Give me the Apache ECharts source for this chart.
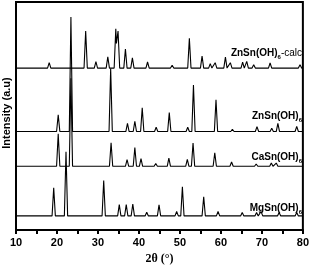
<!DOCTYPE html>
<html><head><meta charset="utf-8">
<script src="https://cdn.jsdelivr.net/npm/echarts@6/dist/echarts.min.js"></script>
<style>html,body{margin:0;padding:0;background:#fff}#c{width:312px;height:270px}</style>
</head><body><div id="c"></div>
<script>
// x-axis ticks (2θ, degrees)
const xTicks = [10, 20, 30, 40, 50, 60, 70, 80];
// pattern names (top to bottom)
const names = ['ZnSn(OH)6-calc', 'ZnSn(OH)6', 'CaSn(OH)6', 'MgSn(OH)6'];
// vertical offsets of each pattern (a.u.)
const offsets = [165.5, 100.7, 65.2, 14.5];
// peaks: [2θ, intensity above baseline]
const calcPeaks = [[18.1,5.5],[27.0,37.8],[29.5,6.5],[32.4,11.5],[34.35,40.2],[34.9,37.8],[36.7,19.5],[38.4,10.5],[42.1,6.2],[48.1,3],[52.3,30.5],[55.4,12.2],[57.4,4.5],[58.6,5.5],[61.1,11.2],[62.3,5.5],[65.3,6],[66.3,6.8],[68.0,3.5],[72.0,5.2],[79.3,3.5]];
const znPeaks = [[20.3,17],[23.4,117],[33.1,64.3],[37.2,8.3],[39.0,10.3],[40.8,24.3],[44.2,4.3],[47.4,19.3],[51.9,4.3],[53.3,47.6],[58.8,32.3],[62.8,2.3],[68.8,5],[72.4,3.3],[73.9,8.3],[78.5,5.3]];
const caPeaks = [[20.3,33.1],[23.4,90],[33.2,24.1],[37.1,6.8],[39.0,19.1],[40.5,7.8],[44.1,2.8],[47.3,8.3],[51.8,7.1],[53.2,23.8],[58.5,13.8],[62.6,4.3],[68.6,2.3],[72.3,3.3],[73.5,3.3],[78.4,1.8]];
const mgPeaks = [[19.2,28.8],[22.2,65.5],[31.4,36.2],[35.2,11.5],[36.9,11.5],[38.5,12.2],[41.9,3.8],[44.9,11.2],[49.2,4.5],[50.6,29.8],[55.8,19.5],[59.3,4.5],[65.2,3.5],[68.7,3.5],[69.8,4.5],[74.2,3.5],[78.5,3.5]];
const allPeaks = [calcPeaks, znPeaks, caPeaks, mgPeaks];

const W = 0.4; // half base width of a drawn peak (deg)
function buildLine(peaks, off){
  const xs = new Set([10, 80]);
  peaks.forEach(p => { xs.add(+(p[0]-W).toFixed(3)); xs.add(p[0]); xs.add(+(p[0]+W).toFixed(3)); });
  const arr = [...xs].sort((a,b)=>a-b);
  return arr.map(x => {
    let v = 0;
    peaks.forEach(p => { const d = Math.abs(x - p[0]); if (d < W) v = Math.max(v, p[1]*(1 - d/W)); });
    return [x, off + v];
  });
}

const chart = echarts.init(document.getElementById('c'), null, {renderer:'canvas'});
const labelY = [55, 118, 159, 210];
const labelRich = [
  '{b|ZnSn(OH)}{s|6}{n|-calc}', '{b|ZnSn(OH)}{s|6}', '{b|CaSn(OH)}{s|6}', '{b|MgSn(OH)}{s|6}'
];
const rich = {
  b:{fontFamily:'Arial, Liberation Sans', fontWeight:'bold', fontSize:10, fill:'#000', color:'#000', verticalAlign:'bottom', lineHeight:12},
  s:{fontFamily:'Arial, Liberation Sans', fontWeight:'bold', fontSize:6, fill:'#000', color:'#000', verticalAlign:'bottom', lineHeight:8, padding:[0,0,-2,0]},
  n:{fontFamily:'Arial, Liberation Sans', fontWeight:'normal', fontSize:10, fill:'#000', color:'#000', verticalAlign:'bottom', lineHeight:12}
};
chart.setOption({
  animation:false,
  backgroundColor:'#fff',
  grid:{left:16, right:8, top:2, bottom:35, show:true, borderColor:'#000', borderWidth:2, backgroundColor:'transparent'},
  xAxis:{type:'value', min:xTicks[0], max:xTicks[xTicks.length-1], interval:10,
    name:'2θ (°)', nameLocation:'middle', nameGap:21,
    nameTextStyle:{fontFamily:'Liberation Serif, Times New Roman', fontWeight:'bold', fontSize:12, color:'#000'},
    axisLine:{lineStyle:{color:'#000', width:2}},
    axisTick:{show:true, inside:false, length:4, lineStyle:{color:'#000', width:2}},
    minorTick:{show:true, splitNumber:2, length:4, lineStyle:{color:'#000', width:2}},
    axisLabel:{color:'#000', fontFamily:'Arial, Liberation Sans', fontWeight:'bold', fontSize:11, margin:7},
    splitLine:{show:false}},
  yAxis:{type:'value', min:0, max:233, axisLine:{show:true, lineStyle:{color:'#000', width:2}},
    axisTick:{show:false}, axisLabel:{show:false}, splitLine:{show:false}},
  graphic:[
    {type:'text', x:6.5, y:113, rotation:Math.PI/2,
      style:{text:'Intensity (a.u)', fontFamily:'Arial, Liberation Sans', fontWeight:'bold', fontSize:11, fill:'#000', align:'center', verticalAlign:'middle'}},
    ...labelRich.map((t,i)=>({type:'text', right:10, top:labelY[i]-7,
      style:{text:t, rich:rich, align:'right'}}))
  ],
  series: allPeaks.map((pk,i)=>({
    type:'line', name:names[i], data:buildLine(pk, offsets[i]), showSymbol:false, symbol:'none',
    lineStyle:{color:'#000', width:1.1}, z:2
  }))
});
</script></body></html>
